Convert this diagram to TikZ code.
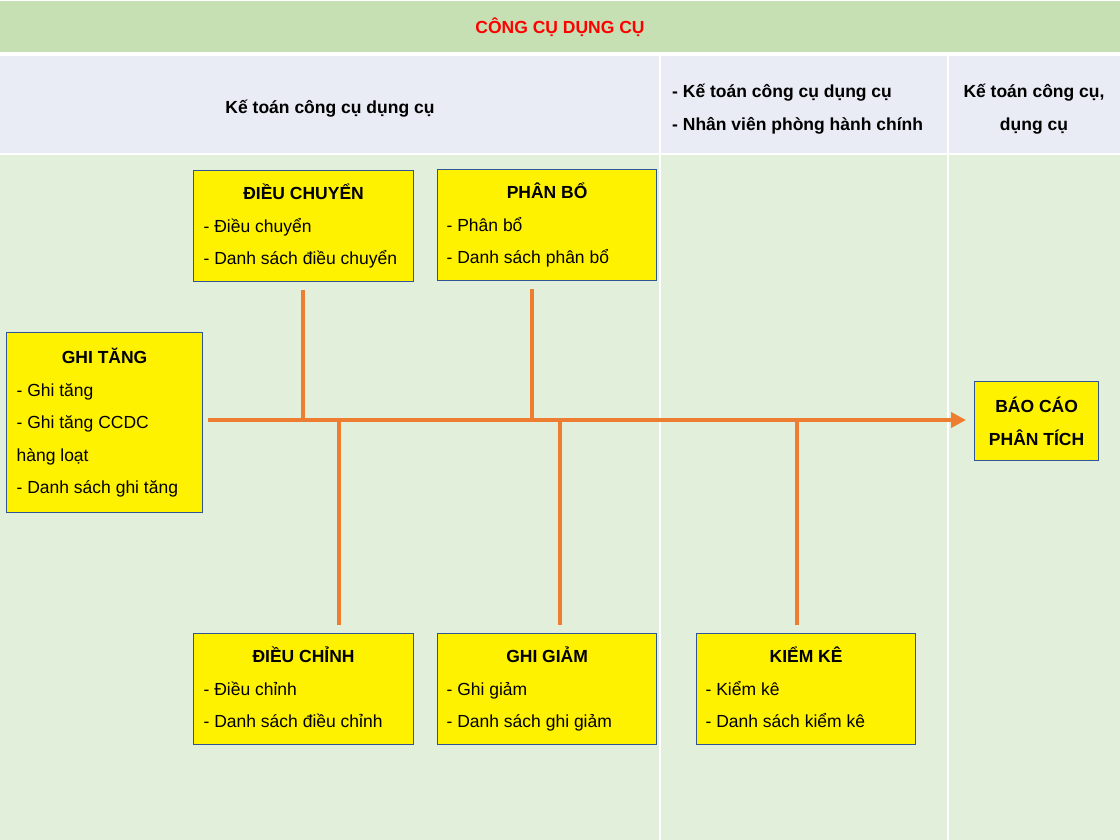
\documentclass[tikz,border=0pt]{standalone}
\usepackage{fontspec}
\setmainfont{Liberation Sans}
\usetikzlibrary{arrows.meta}
\definecolor{headgreen}{HTML}{C6E0B4}
\definecolor{headblue}{HTML}{E9EBF5}
\definecolor{bodygreen}{HTML}{E2EFDA}
\definecolor{conn}{HTML}{ED7D31}
\definecolor{boxline}{HTML}{2F5597}
\definecolor{titlered}{HTML}{FF0000}
\newcommand{\boxtitle}[2]{\makebox[#1][c]{\bfseries\vphantom{Ổ}#2}}
\newcommand{\lastln}[1]{#1\vphantom{g}}
\begin{document}
\begin{tikzpicture}[x=1pt,y=-1pt,
  every node/.style={font=\fontsize{17.5}{32.5}\selectfont},
  fbox/.style={draw=boxline,line width=1.2pt,fill=yellow,anchor=north west,
    inner xsep=10pt,inner ysep=0pt,align=left},
  connline/.style={draw=conn,line width=4pt},
  hdr/.style={font=\fontsize{17.5}{33}\selectfont\bfseries,inner sep=0pt}
]
\useasboundingbox (0,0) rectangle (1120,840);
% backgrounds
\fill[white] (0,0) rectangle (1120,840);
\fill[headgreen] (0,1) rectangle (1120,52);
\fill[headblue] (0,56) rectangle (1120,153);
\fill[bodygreen] (0,155) rectangle (1120,840);
\draw[white,line width=2pt] (660,56) -- (660,840) (948,56) -- (948,840);

% header texts
\node[hdr,text=titlered] (title) at (560,27) {CÔNG CỤ DỤNG CỤ};
\node[hdr] (h1) at (330,109) {Kế toán công cụ dụng cụ};
\node[hdr,anchor=west,align=left] (h2) at (672,109) {- Kế toán công cụ dụng cụ\\- Nhân viên phòng hành chính};
\node[hdr,align=center] (h3) at (1034,109) {Kế toán công cụ,\\dụng cụ};

% boxes
\node[fbox,minimum width=220pt,minimum height=111pt] (dc) at (193,170)
  {\boxtitle{200pt}{ĐIỀU CHUYỂN}\\- Điều chuyển\\\lastln{- Danh sách điều chuyển}};
\node[fbox,minimum width=219pt,minimum height=111pt,inner xsep=9pt] (pb) at (437,169)
  {\boxtitle{201pt}{PHÂN BỔ}\\- Phân bổ\\\lastln{- Danh sách phân bổ}};
\node[fbox,minimum width=196pt,minimum height=180pt] (gt) at (6,332)
  {\boxtitle{176pt}{GHI TĂNG}\\- Ghi tăng\\- Ghi tăng CCDC\\hàng loạt\\\lastln{- Danh sách ghi tăng}};
\node[fbox,minimum width=124pt,minimum height=79pt,inner xsep=4pt,align=center,font=\fontsize{17.5}{32.5}\selectfont\bfseries] (bc) at (974,381)
  {BÁO CÁO\\PHÂN TÍCH};
\node[fbox,minimum width=220pt,minimum height=111pt] (dch) at (193,633)
  {\boxtitle{200pt}{ĐIỀU CHỈNH}\\- Điều chỉnh\\\lastln{- Danh sách điều chỉnh}};
\node[fbox,minimum width=219pt,minimum height=111pt,inner xsep=9pt] (gg) at (437,633)
  {\boxtitle{201pt}{GHI GIẢM}\\- Ghi giảm\\\lastln{- Danh sách ghi giảm}};
\node[fbox,minimum width=219pt,minimum height=111pt,inner xsep=9pt] (kk) at (696,633)
  {\boxtitle{201pt}{KIỂM KÊ}\\- Kiểm kê\\\lastln{- Danh sách kiểm kê}};

% junctions on the main line
\coordinate (m) at (0,420);
\coordinate (j1) at (303,420);
\coordinate (j2) at (532,420);
\coordinate (j3) at (339,420);
\coordinate (j4) at (560,420);
\coordinate (j5) at (797,420);

% connectors
\draw[connline,shorten <=5pt,shorten >=8pt,-{Triangle[length=15pt,width=15pt]}] (gt.east |- m) -- (bc.west |- m);
\draw[connline,shorten <=8pt] (dc.south -| j1) -- (j1);
\draw[connline,shorten <=8pt] (pb.south -| j2) -- (j2);
\draw[connline,shorten <=8pt] (dch.north -| j3) -- (j3);
\draw[connline,shorten <=8pt] (gg.north -| j4) -- (j4);
\draw[connline,shorten <=8pt] (kk.north -| j5) -- (j5);
\end{tikzpicture}
\end{document}
